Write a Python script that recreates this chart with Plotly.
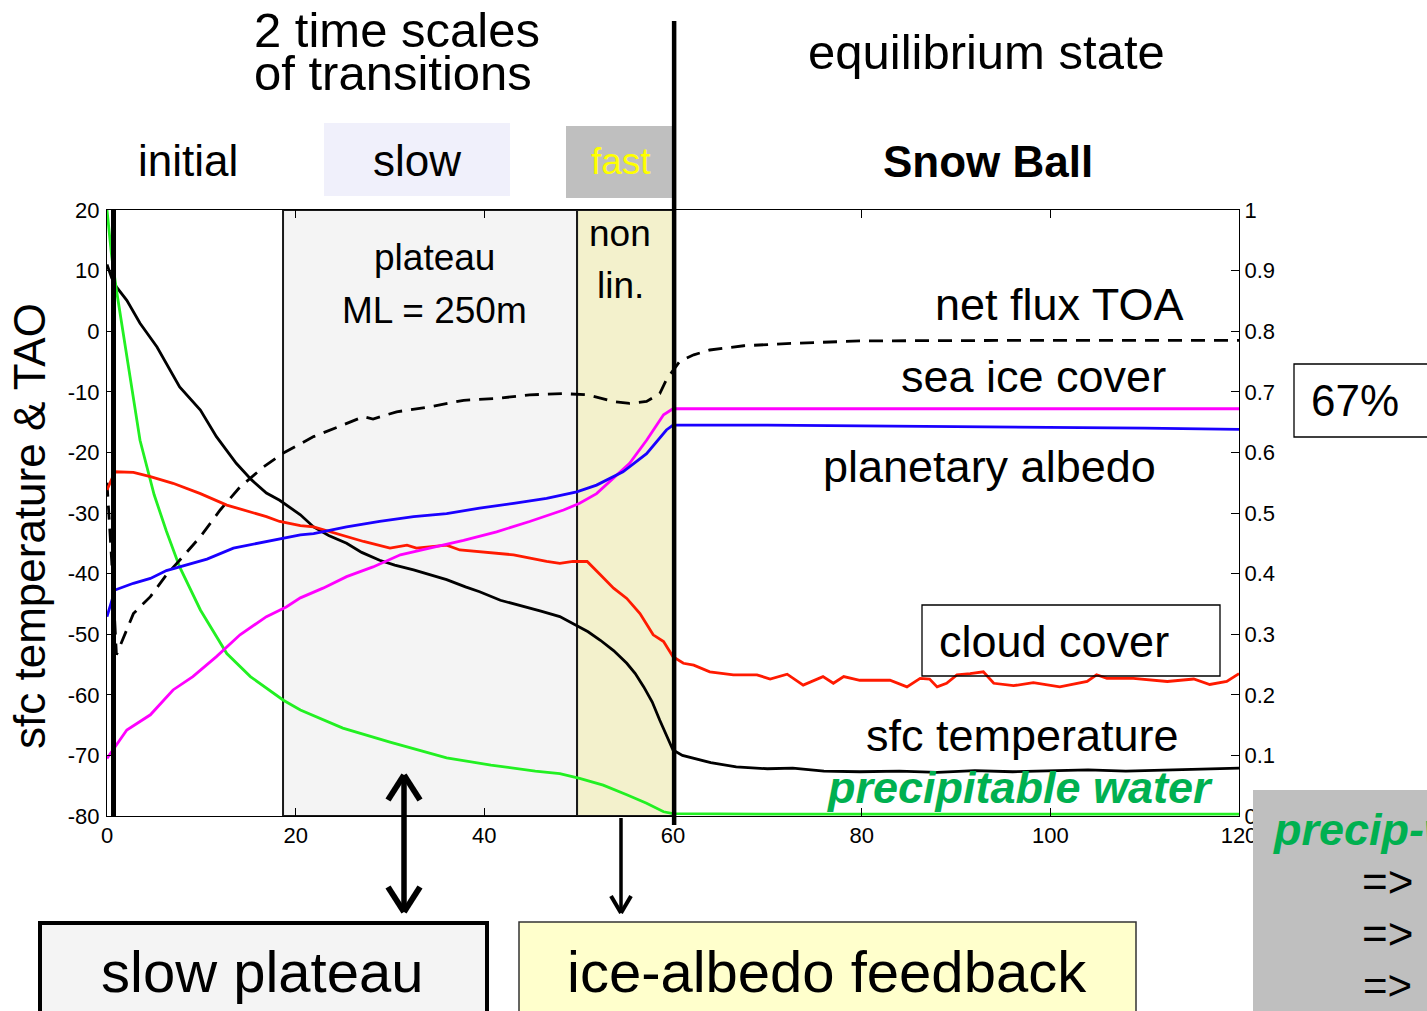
import plotly.graph_objects as go

W, H = 1427, 1011

# ---------------- data ----------------
x_tick_vals = [0, 20, 40, 60, 80, 100, 120]
x_tick_labels = ["0", "20", "40", "60", "80", "100", "120"]
left_tick_vals = [-80, -70, -60, -50, -40, -30, -20, -10, 0, 10, 20]
left_tick_labels = ["-80", "-70", "-60", "-50", "-40", "-30", "-20", "-10", "0", "10", "20"]
right_tick_vals = [0, 0.1, 0.2, 0.3, 0.4, 0.5, 0.6, 0.7, 0.8, 0.9, 1.0]
right_tick_labels = ["0", "0.1", "0.2", "0.3", "0.4", "0.5", "0.6", "0.7", "0.8", "0.9", "1"]

# surface temperature (left axis, deg C)
sfc_temp_x = [0, 0.5, 1, 2.1, 3.5, 5.3, 7.7, 9.9, 11.6, 13.7, 15.3, 16.9, 18.3, 20.5, 21.9, 23.5,
              25.4, 27, 28.9, 30.5, 32.5, 34, 36, 38, 39.5, 41.7, 44, 46, 48, 49.8, 51, 52.3,
              53.7, 55.1, 56, 56.9, 57.8, 58.6, 59.3, 60, 61, 62.2, 64, 66.7, 70, 72.7, 76,
              79.8, 84, 88, 92, 96, 100, 104, 108, 112, 116, 120]
sfc_temp = [11, 8.8, 7.3, 5.1, 1.3, -2.6, -9.2, -13, -17.4, -21.8, -24.5, -26.7, -27.9, -30.3, -32.3, -33.7,
            -35, -36.5, -37.8, -38.6, -39.4, -40.1, -41, -42.2, -43, -44.4, -45.3, -46.2, -47.1, -48.6, -49.6, -51,
            -52.7, -54.8, -56.5, -58.7, -61.2, -64.2, -66.8, -69.1, -70, -70.5, -71.2, -71.9, -72.2, -72.1, -72.6,
            -72.7, -72.6, -72.8, -72.5, -72.7, -72.5, -72.4, -72.6, -72.4, -72.3, -72.1]

# cloud cover (right axis, fraction)
cloud_x = [0, 0.85, 2.8, 4.6, 7, 9.9, 12.7, 15.2, 16.9, 18.3, 20.5, 21.9, 25.4, 27.2, 30, 31.8, 32.8,
           36, 37.4, 39.5, 43.1, 46.6, 48, 49.4, 50.9, 52.3, 53.7, 55.1, 56.5, 57.9, 59, 60, 61.1,
           62.2, 63.9, 66.4, 68.9, 70.3, 72.1, 73.8, 75.9, 77, 78.1, 79.8, 83, 84.8, 86.2, 87.2,
           88, 89, 90.1, 91.5, 92.9, 94, 96.1, 98.2, 101, 103.9, 104.9, 106, 108.8, 112.4, 115.2,
           116.9, 118.7, 120]
cloud = [0.538, 0.568, 0.567, 0.560, 0.549, 0.532, 0.513, 0.502, 0.494, 0.486, 0.479, 0.477, 0.461, 0.453,
         0.442, 0.447, 0.442, 0.447, 0.439, 0.436, 0.431, 0.420, 0.417, 0.420, 0.420, 0.398, 0.376, 0.359,
         0.334, 0.299, 0.288, 0.263, 0.252, 0.249, 0.238, 0.233, 0.233, 0.226, 0.234, 0.216, 0.230, 0.219,
         0.230, 0.224, 0.224, 0.213, 0.227, 0.226, 0.213, 0.219, 0.233, 0.235, 0.238, 0.219, 0.215, 0.220,
         0.213, 0.222, 0.233, 0.227, 0.227, 0.222, 0.226, 0.217, 0.222, 0.235]

# planetary albedo (right axis)
albedo_x = [0, 0.85, 2.8, 4.6, 6.3, 7.7, 10.6, 13.4, 16.9, 18.3, 20.5, 21.9, 25.4, 28.9, 32.5, 36,
            39.5, 43.1, 46.6, 49.8, 51.9, 54.7, 57.2, 59.3, 60, 70, 80, 90, 100, 110, 120]
albedo = [0.329, 0.373, 0.384, 0.392, 0.405, 0.411, 0.424, 0.442, 0.453, 0.457, 0.464, 0.466, 0.477,
          0.486, 0.494, 0.499, 0.508, 0.516, 0.524, 0.535, 0.546, 0.568, 0.598, 0.637, 0.645, 0.645,
          0.644, 0.642, 0.641, 0.640, 0.638]

# sea ice cover (right axis)
ice_x = [0, 0.85, 2.1, 4.6, 7, 9.1, 11.6, 14.1, 16.9, 19, 20.5, 22.9, 25.4, 28.2, 31.1, 34.2, 37.8,
         41.3, 44.8, 48.4, 50.1, 51.9, 53.7, 55.4, 57.2, 59, 60, 70, 80, 90, 100, 110, 120]
ice = [0.095, 0.114, 0.142, 0.167, 0.208, 0.230, 0.263, 0.299, 0.329, 0.345, 0.360, 0.376, 0.395, 0.411,
       0.431, 0.442, 0.455, 0.469, 0.486, 0.505, 0.516, 0.532, 0.557, 0.582, 0.620, 0.662, 0.672, 0.672,
       0.672, 0.672, 0.672, 0.672, 0.672]

# net flux TOA (dashed, right-axis units)
toa_x = [0, 0.5, 1.0, 2.8, 4.6, 6.3, 7.7, 9.9, 12, 14.1, 16.6, 18.7, 21.9, 24.4, 27.2, 28.2, 30.7,
         34.2, 37.8, 41.3, 44.8, 48.4, 50.9, 53.7, 55.4, 57.2, 58.6, 59.3, 60, 60.7, 62.2, 63.9,
         67.5, 72.8, 79.8, 90, 100, 110, 120]
toa = [0.55, 0.42, 0.266, 0.334, 0.362, 0.398, 0.422, 0.461, 0.505, 0.543, 0.576, 0.599, 0.626, 0.642,
       0.659, 0.655, 0.667, 0.675, 0.686, 0.689, 0.695, 0.697, 0.695, 0.684, 0.681, 0.684, 0.697, 0.720,
       0.736, 0.750, 0.761, 0.769, 0.776, 0.780, 0.784, 0.785, 0.785, 0.785, 0.785]

# precipitable water (normalised, right-axis units)
pw_x = [0, 0.5, 1, 2.1, 3.5, 5, 6.3, 7.7, 9.9, 12.7, 15.2, 18.7, 20.5, 25, 30, 36, 40.7, 45.4, 48,
        50.1, 52.6, 55.1, 57.2, 59, 60, 70, 80, 90, 100, 110, 120]
pw = [1.0, 0.923, 0.868, 0.758, 0.62, 0.53, 0.47, 0.411, 0.34, 0.268, 0.23, 0.191, 0.175, 0.145, 0.122,
      0.096, 0.084, 0.074, 0.070, 0.062, 0.051, 0.035, 0.021, 0.007, 0.004, 0.003, 0.003, 0.003, 0.003,
      0.003, 0.003]

# phase boundaries (time axis)
plateau_start, plateau_end, nonlin_end = 18.66, 49.83, 60.0
init_marker = 0.69


def px(x):
    return x / W


def py(y):
    return 1 - y / H


FONT = "Liberation Sans, Arial, Helvetica, sans-serif"
GREEN_TXT = "#00b050"

fig = go.Figure()

fig.add_trace(go.Scatter(x=pw_x, y=pw, yaxis="y2", mode="lines",
                         line=dict(color="#22f022", width=2.8), hoverinfo="skip"))
fig.add_trace(go.Scatter(x=toa_x, y=toa, yaxis="y2", mode="lines",
                         line=dict(color="black", width=2.8, dash="14px,9px"), hoverinfo="skip"))
fig.add_trace(go.Scatter(x=cloud_x, y=cloud, yaxis="y2", mode="lines",
                         line=dict(color="#ff1a00", width=2.8), hoverinfo="skip"))
fig.add_trace(go.Scatter(x=ice_x, y=ice, yaxis="y2", mode="lines",
                         line=dict(color="#ff00ff", width=2.8), hoverinfo="skip"))
fig.add_trace(go.Scatter(x=albedo_x, y=albedo, yaxis="y2", mode="lines",
                         line=dict(color="#1a00ff", width=2.8), hoverinfo="skip"))
fig.add_trace(go.Scatter(x=sfc_temp_x, y=sfc_temp, yaxis="y", mode="lines",
                         line=dict(color="black", width=2.8), hoverinfo="skip"))

tickfont = dict(family=FONT, size=22, color="black")
axis_common = dict(showgrid=False, zeroline=False, showline=True, linecolor="black", linewidth=1,
                   ticks="inside", ticklen=8, tickwidth=1, tickcolor="black", tickfont=tickfont,
                   automargin=False)

fig.update_layout(
    template="none",
    width=W, height=H, autosize=False,
    margin=dict(l=0, r=0, t=0, b=0, pad=0),
    paper_bgcolor="white", plot_bgcolor="white",
    showlegend=False,
    xaxis=dict(range=[0, 120], domain=[px(107), px(1239)], tickmode="array",
               tickvals=x_tick_vals, ticktext=x_tick_labels, mirror="ticks", **axis_common),
    yaxis=dict(range=[-80, 20], domain=[py(816), py(210)], tickmode="array",
               tickvals=left_tick_vals, ticktext=left_tick_labels, ticklabelstandoff=2, **axis_common),
    yaxis2=dict(range=[0, 1], overlaying="y", side="right", anchor="x", tickmode="array",
                tickvals=right_tick_vals, ticktext=right_tick_labels, **axis_common),
)

shapes = []
# plateau and non-linear regions inside the axes
shapes.append(dict(type="rect", xref="x", yref="y domain", x0=plateau_start, x1=plateau_end, y0=0, y1=1,
                   fillcolor="#f4f4f4", line=dict(color="#1a1a1a", width=2), layer="below"))
shapes.append(dict(type="rect", xref="x", yref="y domain", x0=plateau_end, x1=nonlin_end, y0=0, y1=1,
                   fillcolor="#f3f1cc", line=dict(color="#1a1a1a", width=2), layer="below"))
# thick vertical markers
shapes.append(dict(type="line", xref="x", yref="y domain", x0=init_marker, x1=init_marker, y0=0, y1=1,
                   line=dict(color="black", width=5), layer="above"))
shapes.append(dict(type="line", xref="x", yref="paper", x0=nonlin_end + 0.12, x1=nonlin_end + 0.12,
                   y0=py(825), y1=py(21), line=dict(color="black", width=4.5), layer="above"))
# header boxes
shapes.append(dict(type="rect", xref="paper", yref="paper", x0=px(324), x1=px(510), y0=py(196), y1=py(123),
                   fillcolor="#f0f0fb", line=dict(width=0), layer="below"))
shapes.append(dict(type="rect", xref="paper", yref="paper", x0=px(566), x1=px(673), y0=py(198), y1=py(126),
                   fillcolor="#bfbfbf", line=dict(width=0), layer="below"))
# cloud cover box
shapes.append(dict(type="rect", xref="paper", yref="paper", x0=px(922), x1=px(1220), y0=py(676), y1=py(605),
                   fillcolor="rgba(0,0,0,0)", line=dict(color="black", width=1.3), layer="above"))
# 67% box (runs off the right edge)
shapes.append(dict(type="rect", xref="paper", yref="paper", x0=px(1294), x1=px(1440), y0=py(437), y1=py(364),
                   fillcolor="white", line=dict(color="black", width=1.3), layer="above"))
# bottom-right gray box
shapes.append(dict(type="rect", xref="paper", yref="paper", x0=px(1253), x1=px(1440), y0=py(1020), y1=py(790),
                   fillcolor="#bfbfbf", line=dict(width=0), layer="above"))
# bottom boxes (run off the bottom edge)
shapes.append(dict(type="rect", xref="paper", yref="paper", x0=px(40), x1=px(487), y0=py(1022), y1=py(923),
                   fillcolor="#f4f4f4", line=dict(color="black", width=4), layer="above"))
shapes.append(dict(type="rect", xref="paper", yref="paper", x0=px(519), x1=px(1136), y0=py(1022), y1=py(922),
                   fillcolor="#ffffcc", line=dict(color="#333", width=1.5), layer="above"))


def seg(x0, y0, x1, y1, w):
    return dict(type="line", xref="paper", yref="paper", x0=px(x0), y0=py(y0), x1=px(x1), y1=py(y1),
                line=dict(color="black", width=w), layer="above")


# double-headed arrow
shapes.append(seg(404, 776, 404, 910, 5.5))
shapes.append(seg(388, 800, 404, 775, 6))
shapes.append(seg(420, 800, 404, 775, 6))
shapes.append(seg(388, 887, 404, 912, 6))
shapes.append(seg(420, 887, 404, 912, 6))
# single arrow
shapes.append(seg(621, 818, 621, 911, 3.5))
shapes.append(seg(611, 896, 621, 913, 4))
shapes.append(seg(631, 896, 621, 913, 4))

fig.update_layout(shapes=shapes)

ann = []


def text(t, x, y, size, color="black", xanchor="center", angle=0):
    ann.append(dict(text=t, x=px(x), y=py(y), xref="paper", yref="paper", showarrow=False,
                    xanchor=xanchor, yanchor="middle", textangle=angle,
                    font=dict(family=FONT, size=size, color=color)))


text("2 time scales", 397, 29.5, 49)
text("of transitions", 392.5, 72.5, 49)
text("initial", 188, 160, 44)
text("slow", 416.5, 161, 44)
text("fast", 620.5, 162, 37, color="#ffff00")
text("equilibrium state", 986, 52, 49)
text("<b>Snow Ball</b>", 988, 162, 44)
text("plateau", 434, 258, 37)
text("ML = 250m", 434, 310, 37)
text("non", 620, 233, 37)
text("lin.", 620, 285, 37)
text("net flux TOA", 1059, 304, 45)
text("sea ice cover", 1033.5, 376, 45)
text("planetary albedo", 989, 466, 45)
text("cloud cover", 1054, 641, 45)
text("sfc temperature", 1023, 735, 45)
text("<b><i>precipitable water</i></b>", 1019.5, 787, 45, color=GREEN_TXT)
text("67%", 1354.5, 401, 44)
text("slow plateau", 262, 971, 58)
text("ice-albedo feedback", 827, 971, 58)
text("<b><i>precip-w</i></b>", 1271, 829, 45, color=GREEN_TXT, xanchor="left")
text("=>", 1387, 881, 44)
text("=>", 1387, 933, 44)
text("=>", 1387, 985, 42)
text("sfc temperature & TAO", 29, 526, 44, angle=-90)

fig.update_layout(annotations=ann)

fig.write_html("out.html", config={"displayModeBar": False})
